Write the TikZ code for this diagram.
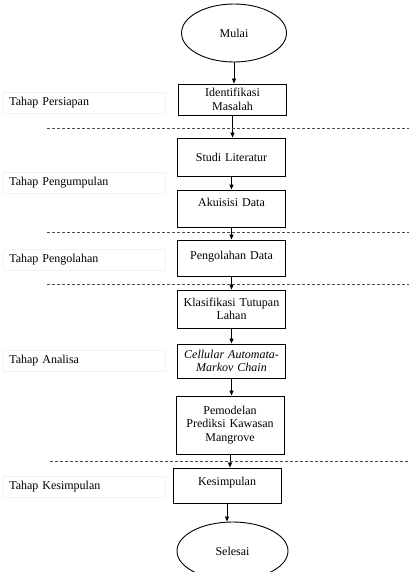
\documentclass[tikz,border=0pt]{standalone}
\usepackage{fontspec}
\setmainfont{Liberation Serif}
\usetikzlibrary{shapes.geometric,arrows.meta}
\begin{document}
\begin{tikzpicture}[x=1pt,y=-1pt,
  font=\fontsize{12}{13.5}\selectfont,
  procbox/.style={draw, line width=0.9pt, align=center, inner sep=1pt, text width=106pt},
  term/.style={draw, line width=0.9pt, ellipse, inner sep=0pt},
  stagelbl/.style={draw=black!5, line width=0.5pt, anchor=west, minimum width=160pt, minimum height=21pt, text width=150pt, align=left, inner xsep=6pt},
  sep/.style={dash pattern=on 3pt off 2pt, line width=0.6pt, draw=black!70},
  flow/.style={-{Triangle[length=5pt,width=4pt]}, line width=0.8pt}]
\useasboundingbox (0,0) rectangle (409,572);

\node[term, minimum width=105pt, minimum height=58pt] (mulai) at (234,33) {Mulai};
\node[procbox, minimum height=31pt] (ident) at (232.5,99.5) {Identifikasi\\Masalah};
\node[procbox, minimum height=38pt] (studi) at (231.5,157) {Studi Literatur};
\node[procbox, minimum height=37pt, text depth=12pt] (akui) at (231.5,208.5) {Akuisisi Data};
\node[procbox, minimum height=36pt, text depth=6pt] (olah) at (231.5,258) {Pengolahan Data};
\node[procbox, minimum height=38pt] (klas) at (231.5,309) {Klasifikasi Tutupan\\Lahan};
\node[procbox, minimum height=34pt] (ca) at (231.5,361) {\textit{Cellular Automata-}\\\textit{Markov Chain}};
\node[procbox, minimum height=58pt] (model) at (230,425) {Pemodelan\\Prediksi Kawasan\\Mangrove};
\node[procbox, minimum height=35pt, text depth=8pt] (kesim) at (227,485.5) {Kesimpulan};
\node[term, minimum width=111pt, minimum height=58pt] (selesai) at (232.5,551) {Selesai};

\draw[flow] (mulai.south) -- (mulai.south |- ident.north);
\draw[flow] (ident.south) -- (ident.south |- studi.north);
\draw[flow] (studi.south) -- (studi.south |- akui.north);
\draw[flow] (akui.south) -- (akui.south |- olah.north);
\draw[flow] (olah.south) -- (olah.south |- klas.north);
\draw[flow] (klas.south) -- (klas.south |- ca.north);
\draw[flow] (ca.south) -- (ca.south |- model.north);
\draw[flow] (model.south) -- (model.south |- kesim.north);
\draw[flow] (kesim.south) -- (kesim.south |- selesai.north);

\coordinate (d1a) at (47,128);  \coordinate (d1b) at (409,128);
\coordinate (d2a) at (47,232);  \coordinate (d2b) at (409,232);
\coordinate (d3a) at (47,284);  \coordinate (d3b) at (409,284);
\coordinate (d4a) at (50,461);  \coordinate (d4b) at (409,461);
\draw[sep] (d1a) -- (d1b);
\draw[sep] (d2a) -- (d2b);
\draw[sep] (d3a) -- (d3b);
\draw[sep] (d4a) -- (d4b);

\node[stagelbl] (l1) at (3,103) {Tahap Persiapan};
\node[stagelbl] (l2) at (3,183) {Tahap Pengumpulan};
\node[stagelbl] (l3) at (3,260) {Tahap Pengolahan};
\node[stagelbl] (l4) at (3,361) {Tahap Analisa};
\node[stagelbl] (l5) at (3,487) {Tahap Kesimpulan};
\end{tikzpicture}
\end{document}
